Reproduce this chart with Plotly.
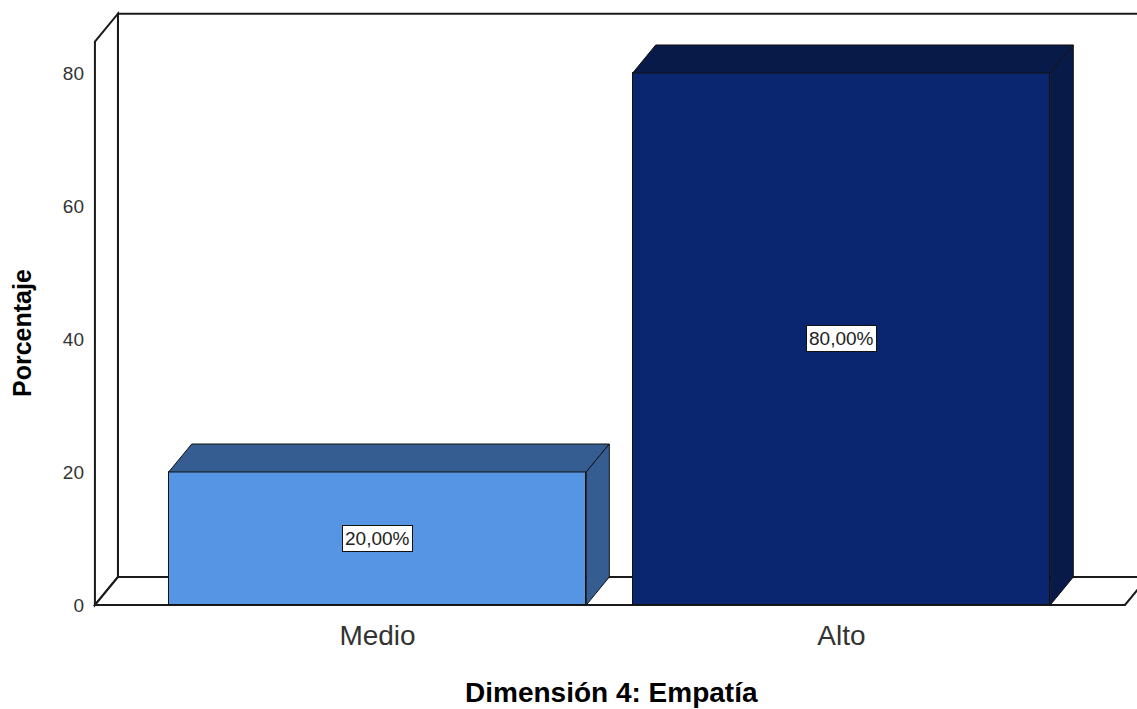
import plotly.graph_objects as go

# Data
categories = ["Medio", "Alto"]
percentages = [20.0, 80.0]
bar_labels = ["20,00%", "80,00%"]
y_ticks = [0, 20, 40, 60, 80]

# Styling
front_colors = ["#5595e3", "#0a2670"]
shade_colors = ["#365d91", "#081a48"]
BAR_W = 0.9
DX = 0.0496          # depth offset along x (category units)
DY = 4.21            # depth offset along y (percentage units)
WALL_LEFT = -0.609
WALL_TOP = 84.7
FLOOR_RIGHT = 1.611
FONT = "Liberation Sans, Arial, sans-serif"

xs = list(range(len(categories)))

fig = go.Figure()

# Front faces of the bars
fig.add_trace(go.Bar(
    x=xs, y=percentages, width=BAR_W,
    marker=dict(color=front_colors, line=dict(color="#111111", width=1)),
    hoverinfo="skip", showlegend=False,
))

# Top and side faces for the 3D look
for x, v, c in zip(xs, percentages, shade_colors):
    l, r = x - BAR_W / 2, x + BAR_W / 2
    fig.add_trace(go.Scatter(
        x=[l, r, r + DX, l + DX, l], y=[v, v, v + DY, v + DY, v],
        mode="lines", fill="toself", fillcolor=c,
        line=dict(color="#111111", width=1), hoverinfo="skip", showlegend=False,
    ))
    fig.add_trace(go.Scatter(
        x=[r, r + DX, r + DX, r, r], y=[0, DY, v + DY, v, 0],
        mode="lines", fill="toself", fillcolor=c,
        line=dict(color="#111111", width=1), hoverinfo="skip", showlegend=False,
    ))

# Chart box: back wall, left wall and floor
far_r = FLOOR_RIGHT + DX + 0.2
wall_line = dict(color="#1a1a1a", width=2)
shapes = [
    dict(type="path", layer="below", line=wall_line, fillcolor="white",
         path=f"M {WALL_LEFT+DX},{DY} L {WALL_LEFT+DX},{WALL_TOP+DY} L {far_r},{WALL_TOP+DY} "
              f"L {far_r},{DY} Z"),
    dict(type="path", layer="below", line=wall_line, fillcolor="white",
         path=f"M {WALL_LEFT},0 L {WALL_LEFT},{WALL_TOP} L {WALL_LEFT+DX},{WALL_TOP+DY} "
              f"L {WALL_LEFT+DX},{DY} Z"),
    dict(type="path", layer="below", line=wall_line, fillcolor="white",
         path=f"M {WALL_LEFT},0 L {FLOOR_RIGHT},0 L {FLOOR_RIGHT+DX},{DY} "
              f"L {WALL_LEFT+DX},{DY} Z"),
]
for s in shapes:
    s.update(xref="x", yref="y")

# Value labels in the middle of each bar
annotations = []
for x, v, t in zip(xs, percentages, bar_labels):
    annotations.append(dict(
        x=x, y=v / 2, xref="x", yref="y", text=t, showarrow=False,
        font=dict(family=FONT, size=19, color="#222222"),
        bgcolor="white", bordercolor="#111111", borderwidth=1, borderpad=2,
    ))

# Axis titles
annotations.append(dict(
    x=0, y=0.4617, xref="paper", yref="paper", xshift=-63, text="<b>Porcentaje</b>",
    textangle=-90, showarrow=False, xanchor="center", yanchor="middle",
    font=dict(family=FONT, size=25, color="#000000"),
))
annotations.append(dict(
    x=0.5, y=-0.1367, xref="paper", yref="paper", text="<b>Dimensión 4: Empatía</b>",
    showarrow=False, xanchor="center", yanchor="middle",
    font=dict(family=FONT, size=28, color="#000000"),
))

fig.update_layout(
    width=1137, height=709,
    margin=dict(l=85, r=0, t=10, b=99),
    paper_bgcolor="white", plot_bgcolor="white",
    shapes=shapes, annotations=annotations,
    xaxis=dict(
        range=[-0.6304, 1.6369], tickvals=xs, ticktext=categories,
        showgrid=False, zeroline=False, showline=False, ticks="",
        tickfont=dict(family=FONT, size=28, color="#333333"),
        ticklabelstandoff=6,
    ),
    yaxis=dict(
        range=[-0.752, 89.47], tickvals=y_ticks,
        showgrid=False, zeroline=False, showline=False, ticks="",
        tickfont=dict(family=FONT, size=19, color="#333333"),
        ticklabelstandoff=0,
    ),
    bargap=0,
)

fig.write_html("out.html")
